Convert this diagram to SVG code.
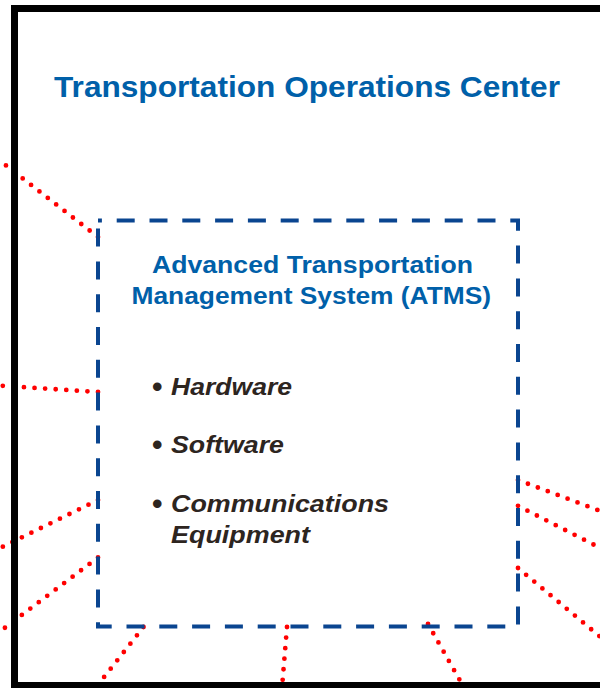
<svg xmlns="http://www.w3.org/2000/svg" width="600" height="688" viewBox="0 0 600 688">
  <style>
    .title { font-family: "Liberation Sans", Arial, sans-serif; font-weight: bold; fill: #0060A9; }
    .item { font-family: "Liberation Sans", Arial, sans-serif; font-weight: bold; font-style: italic; font-size: 23.3px; fill: #2D251F; }
    .bullet { font-family: "Liberation Sans", Arial, sans-serif; font-weight: bold; font-size: 30px; fill: #2D251F; }
    .link { fill: none; stroke: #FF0000; stroke-width: 4.8; stroke-linecap: round; stroke-dasharray: 0 10.6; }
  </style>
  <rect x="0" y="0" width="600" height="688" fill="#FFFFFF"/>
  <g id="connectors">
    <path class="link" d="M98,237 L-10,153"/>
    <path class="link" d="M98,392 L-10,385"/>
    <path class="link" d="M98,500 L-10,553"/>
    <path class="link" d="M98,557.5 L-10,639"/>
    <path class="link" d="M143.5,627 L86,700"/>
    <path class="link" d="M287,627 L281,700"/>
    <path class="link" d="M428,624 L471,700"/>
    <path class="link" d="M518,480 L610,514.7"/>
    <path class="link" d="M518,505.8 L610,553"/>
    <path class="link" d="M518,568 L610,645"/>
  </g>
  <g id="toc">
    <rect x="14.5" y="8.5" width="700" height="677" fill="none" stroke="#000000" stroke-width="7"/>
    <text class="title" x="54" y="97.3" font-size="30" textLength="506" lengthAdjust="spacingAndGlyphs">Transportation Operations Center</text>
  </g>
  <g id="atms">
    <path d="M98,220.5 H518 V626.5 H98 Z" fill="none" stroke="#0A4590" stroke-width="4" stroke-dasharray="18 14.8" stroke-dashoffset="14.1"/>
    <text class="title" x="152" y="273.3" font-size="23.3" textLength="321" lengthAdjust="spacingAndGlyphs">Advanced Transportation</text>
    <text class="title" x="131.5" y="303.5" font-size="23.3" textLength="359.5" lengthAdjust="spacingAndGlyphs">Management System (ATMS)</text>
    <text class="bullet" x="152" y="397">•</text>
    <text class="item" x="171" y="395" textLength="121" lengthAdjust="spacingAndGlyphs">Hardware</text>
    <text class="bullet" x="152" y="455.3">•</text>
    <text class="item" x="171" y="453.3" textLength="113" lengthAdjust="spacingAndGlyphs">Software</text>
    <text class="bullet" x="152" y="513.7">•</text>
    <text class="item" x="171" y="511.7" textLength="218" lengthAdjust="spacingAndGlyphs">Communications</text>
    <text class="item" x="171" y="543.3" textLength="139" lengthAdjust="spacingAndGlyphs">Equipment</text>
  </g>
</svg>
